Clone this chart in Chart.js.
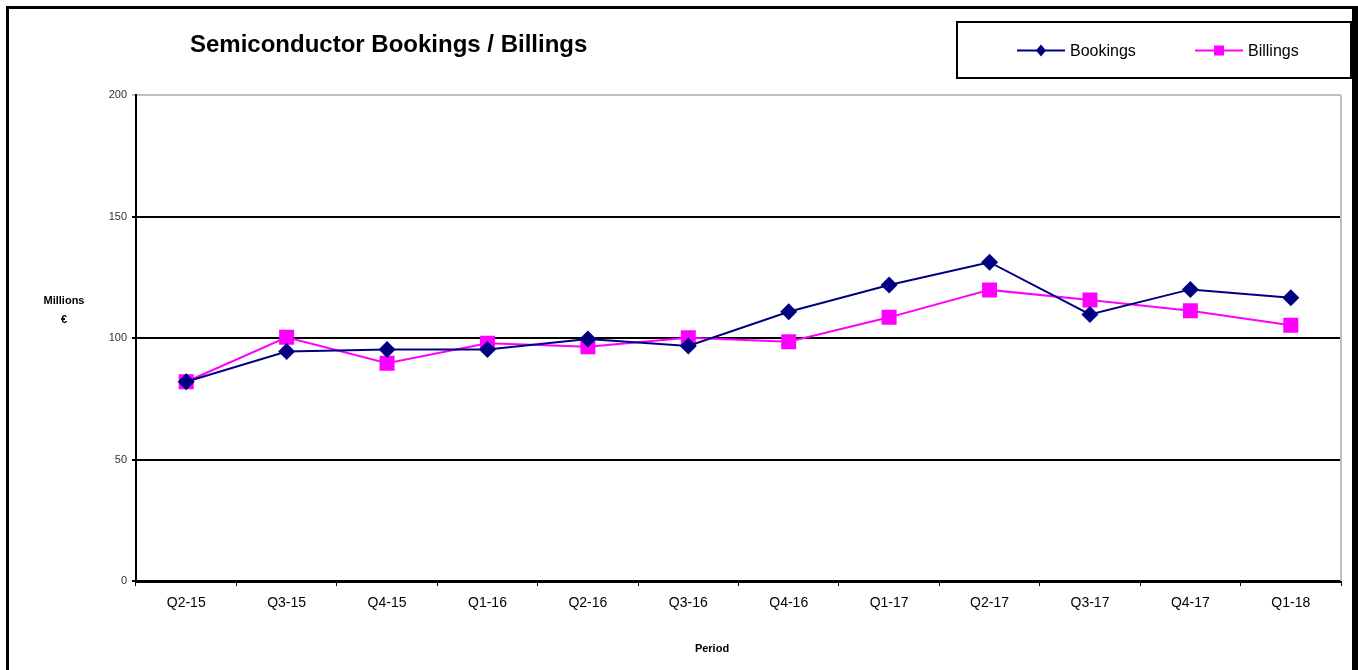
<!DOCTYPE html>
<html>
<head>
<meta charset="utf-8">
<title>Semiconductor Bookings / Billings</title>
<script src="https://cdn.jsdelivr.net/npm/chart.js@4/dist/chart.umd.min.js"></script>
<style>
  body { margin: 0; background: #fff; }
  #frame {
    position: absolute; left: 6px; top: 6px;
    width: 1343px; height: 700px;
    border-left: 3px solid #000; border-top: 3px solid #000; border-right: 6px solid #000;
    pointer-events: none;
  }
  canvas { position: absolute; left: 0; top: 0; }
</style>
</head>
<body>
<canvas id="chart" width="1358" height="670"></canvas>
<div id="frame"></div>
<script>
const FONT = '"Liberation Sans", Arial, sans-serif'

// Data (millions of euro)
const periods = ["Q2-15", "Q3-15", "Q4-15", "Q1-16", "Q2-16", "Q3-16", "Q4-16", "Q1-17", "Q2-17", "Q3-17", "Q4-17", "Q1-18"]
const bookings = [82, 94.4, 95.3, 95.3, 99.6, 96.7, 110.8, 121.8, 131.2, 109.7, 120, 116.6]
const billings = [82, 100.3, 89.6, 97.8, 96.4, 100.1, 98.5, 108.5, 119.8, 115.6, 111.2, 105.2]
const yTicks = [0, 50, 100, 150, 200]

// Title, legend box, axis titles and plot border
const decor = {
    id: "decor",
    beforeDatasetsDraw(chart) {
        const { ctx, chartArea } = chart
        ctx.save()
        ctx.strokeStyle = "#c0c0c0"
        ctx.lineWidth = 2
        ctx.beginPath()
        ctx.moveTo(chartArea.right, chartArea.top)
        ctx.lineTo(chartArea.right, chartArea.bottom)
        ctx.stroke()
        ctx.restore()
    },
    afterDraw(chart) {
        const { ctx } = chart
        ctx.save()
        ctx.fillStyle = "#000"
        ctx.textBaseline = "middle"

        ctx.font = "bold 24px " + FONT
        ctx.textAlign = "left"
        ctx.fillText("Semiconductor Bookings / Billings", 190, 45)

        ctx.font = "bold 11px " + FONT
        ctx.textAlign = "center"
        ctx.fillText("Millions", 64, 301)
        ctx.fillText("€", 64, 320)
        ctx.fillText("Period", 712, 649)

        // legend
        ctx.strokeStyle = "#000"
        ctx.lineWidth = 2
        ctx.strokeRect(957, 22, 394, 56)
        const items = [
            { ds: chart.data.datasets[0], x: 1017 },
            { ds: chart.data.datasets[1], x: 1195 }
        ]
        const y = 50.5
        items.forEach(it => {
            ctx.strokeStyle = it.ds.borderColor
            ctx.lineWidth = 2
            ctx.beginPath()
            ctx.moveTo(it.x, y)
            ctx.lineTo(it.x + 48, y)
            ctx.stroke()
            ctx.fillStyle = it.ds.pointBackgroundColor
            const cx = it.x + 24
            if (it.ds.pointStyle === "rectRot") {
                ctx.beginPath()
                ctx.moveTo(cx, y - 6)
                ctx.lineTo(cx + 5, y)
                ctx.lineTo(cx, y + 6)
                ctx.lineTo(cx - 5, y)
                ctx.closePath()
                ctx.fill()
            } else {
                ctx.fillRect(cx - 5, y - 5, 10, 10)
            }
            ctx.fillStyle = "#000"
            ctx.font = "16px " + FONT
            ctx.textAlign = "left"
            ctx.fillText(it.ds.label, it.x + 53, y + 1)
        })
        ctx.restore()
    }
}

new Chart(document.getElementById("chart"), {
    type: "line",
    data: {
        labels: periods,
        datasets: [{
            label: "Bookings",
            data: bookings,
            borderColor: "#000080",
            backgroundColor: "#000080",
            pointBackgroundColor: "#000080",
            pointBorderColor: "#000080",
            pointStyle: "rectRot",
            pointRadius: 8.5,
            pointBorderWidth: 0,
            borderWidth: 2,
            tension: 0
        }, {
            label: "Billings",
            data: billings,
            borderColor: "#ff00ff",
            backgroundColor: "#ff00ff",
            pointBackgroundColor: "#ff00ff",
            pointBorderColor: "#ff00ff",
            pointStyle: "rect",
            pointRadius: 10.6,
            pointBorderWidth: 0,
            borderWidth: 2,
            tension: 0
        }]
    },
    options: {
        responsive: false,
        animation: false,
        layout: { padding: { left: 0, top: 95, right: 17, bottom: 0 } },
        plugins: {
            legend: { display: false },
            title: { display: false },
            tooltip: { enabled: false }
        },
        scales: {
            x: {
                offset: true,
                afterFit: s => { s.height = 89 },
                grid: {
                    offset: true,
                    drawOnChartArea: false,
                    drawTicks: true,
                    tickLength: 5,
                    color: "#000",
                    lineWidth: 1
                },
                border: { color: "#000", width: 3 },
                ticks: {
                    font: { family: FONT, size: 14 },
                    color: "#000",
                    padding: 9,
                    maxRotation: 0,
                    autoSkip: false
                }
            },
            y: {
                min: 0,
                max: 200,
                afterFit: s => { s.width = 136 },
                afterBuildTicks: s => { s.ticks = yTicks.map(v => ({ value: v })) },
                grid: {
                    color: c => (c.tick && c.tick.value === 200) ? "#c0c0c0" : "#000",
                    lineWidth: 2,
                    tickLength: 4
                },
                border: { color: "#000", width: 2 },
                ticks: {
                    font: { family: FONT, size: 11 },
                    color: "#333",
                    padding: 5
                }
            }
        }
    },
    plugins: [decor]
})
</script>
</body>
</html>
